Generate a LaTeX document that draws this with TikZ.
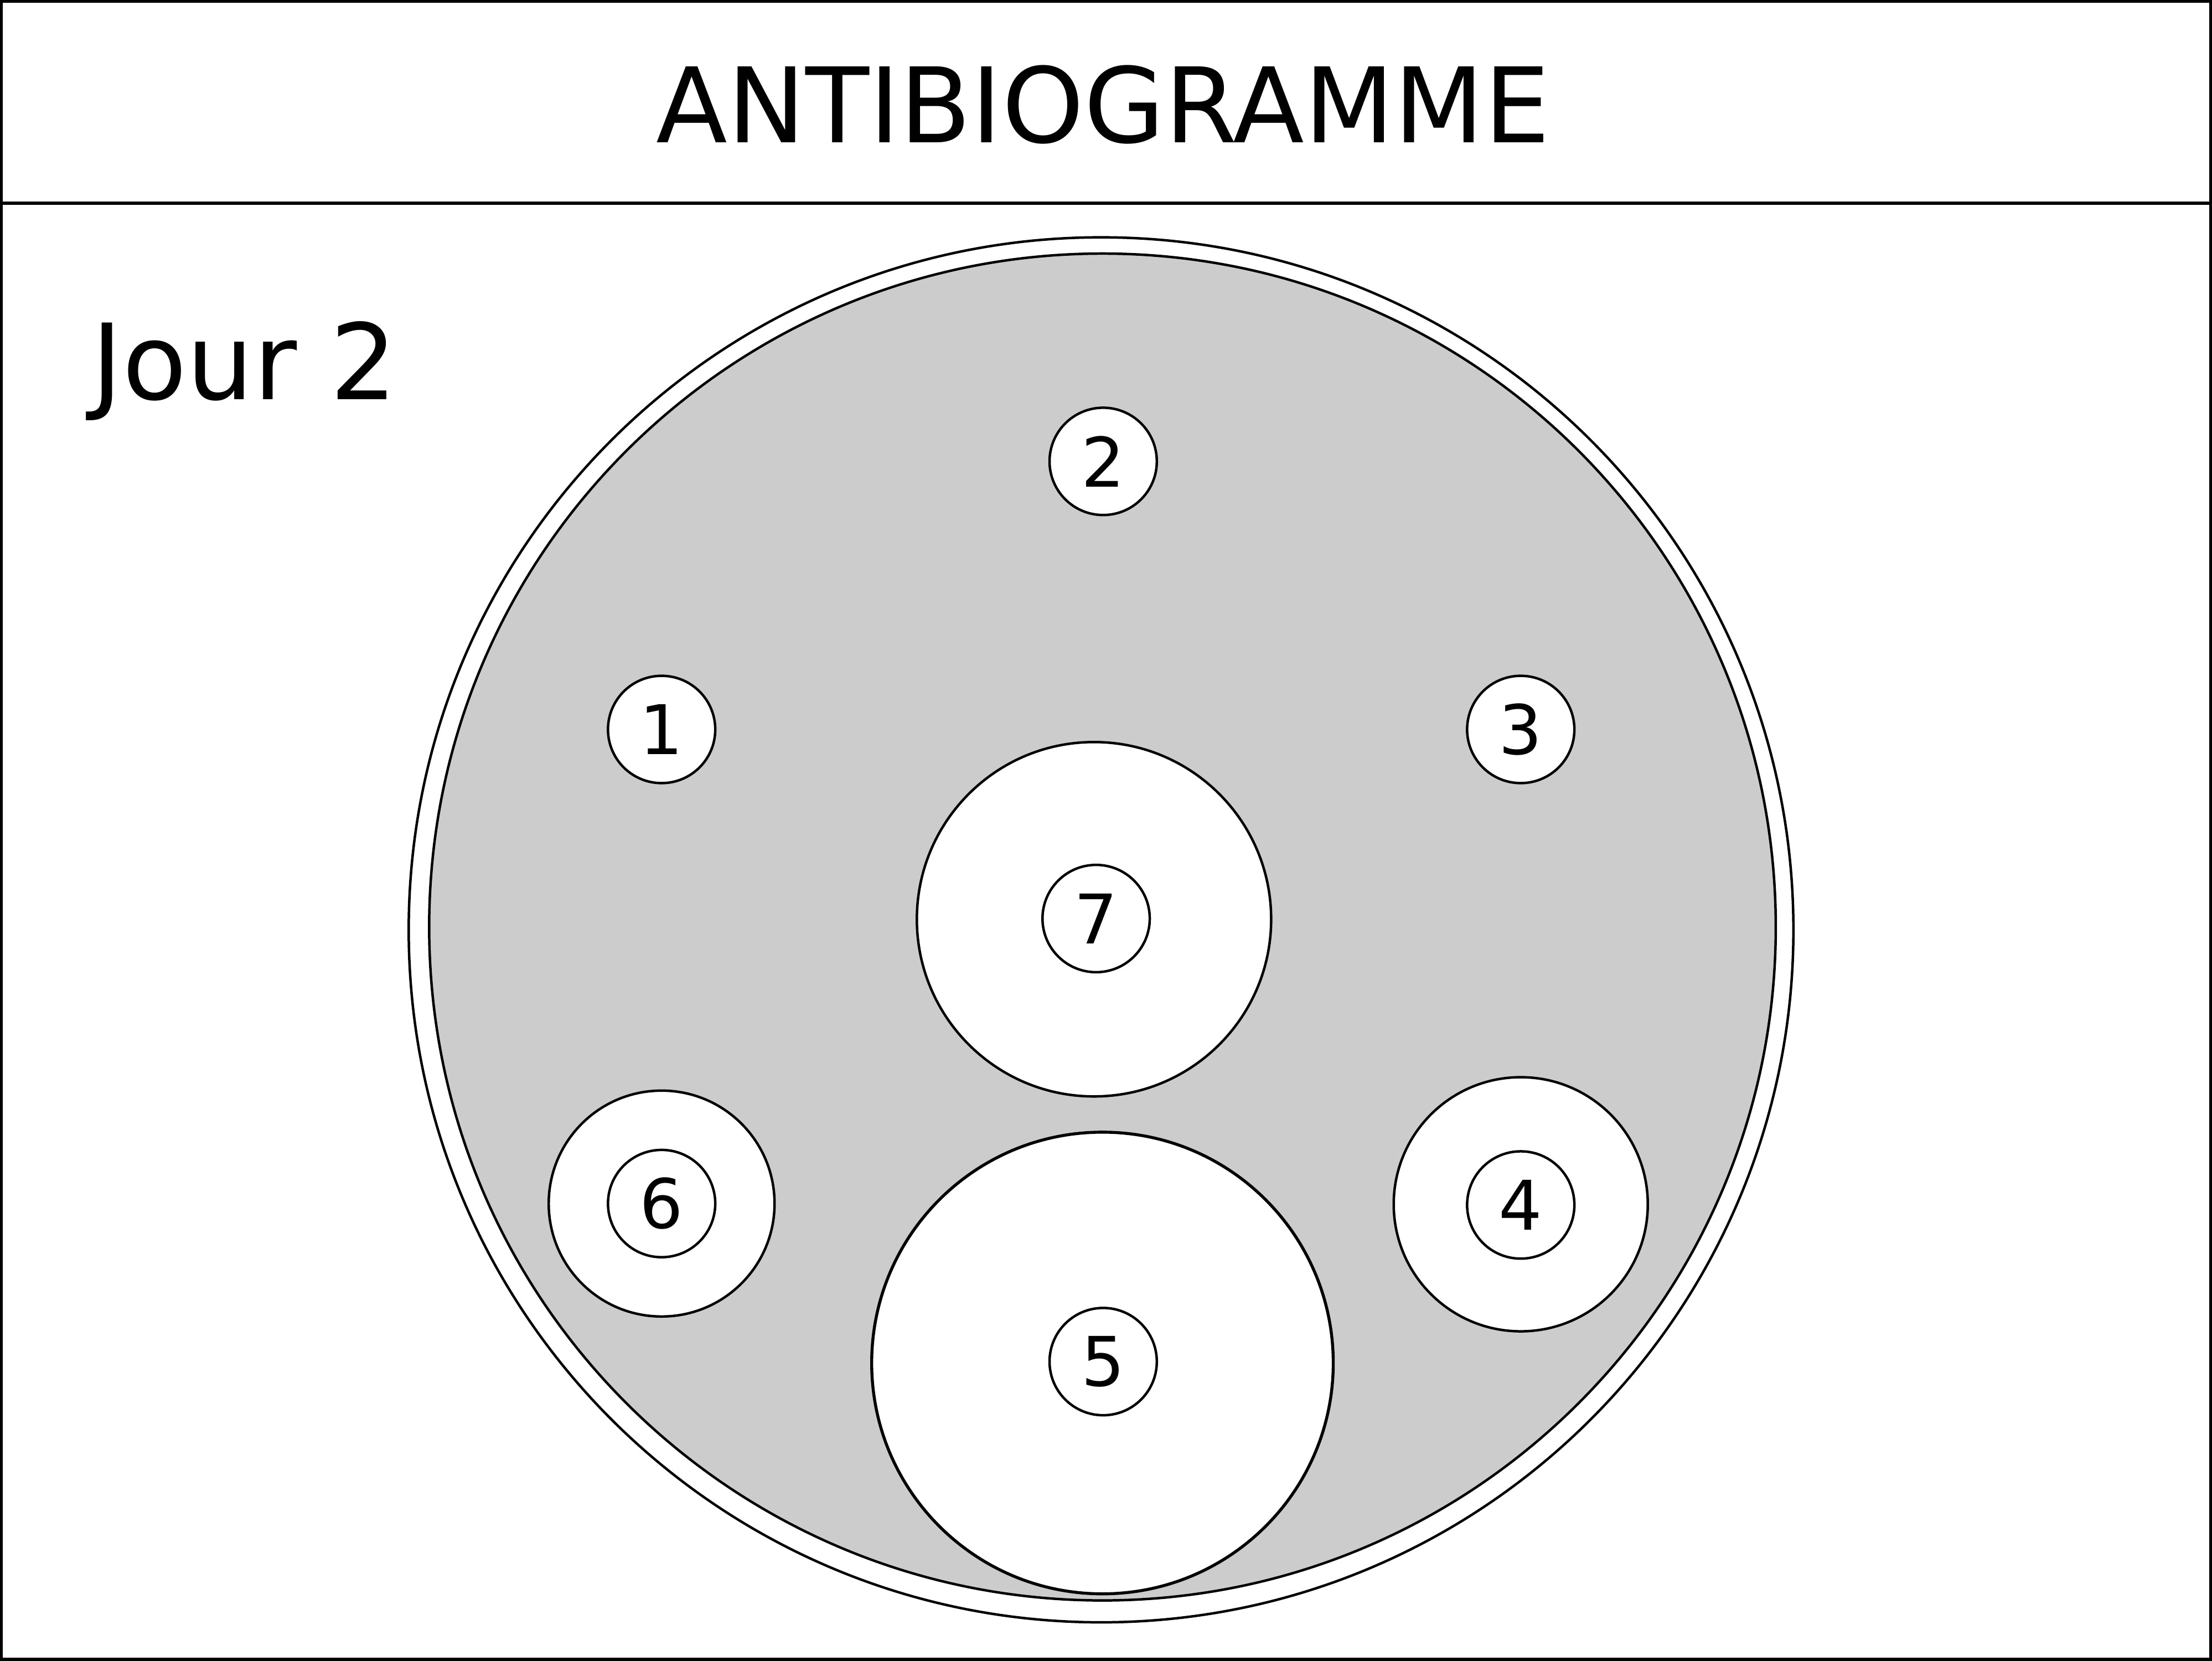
\documentclass[tikz,border=0pt]{standalone}
\usepackage{fontspec}
\setmainfont{DejaVu Sans}
\definecolor{agar}{HTML}{CCCCCC}
\tikzset{
  disk/.style={circle,draw,fill=white,line width=0.5pt,minimum size=0.76cm,inner sep=0pt,font=\fontsize{13.8}{14}\selectfont},
  zone/.style={circle,draw,fill=white,line width=0.5pt,inner sep=0pt}
}
\begin{document}
\begin{tikzpicture}[x=0.01cm,y=-0.01cm,line width=0.5pt]
    \useasboundingbox (0,0) rectangle (1568,1177);
    \draw[line width=0.6pt] (1,1) rectangle (1567,1176) (1,144) -- (1567,144);
    \node[anchor=base,font=\fontsize{21}{24}\selectfont] (titre) at (782,101) {ANTIBIOGRAMME};
    \node[anchor=base west,inner sep=0pt,font=\fontsize{21.2}{24}\selectfont] (jour) at (64,283) {Jour 2};

    % boite de petri
    \draw (780.5,659) circle[radius=4.905cm];
    \draw[fill=agar] (781.5,657) circle[radius=4.77cm];

    % zones d'inhibition
    \node[zone,minimum size=2.51cm] (z7) at (775.5,651.5) {};
    \node[zone,minimum size=1.60cm] (z6) at (469,853) {};
    \node[zone,minimum size=1.80cm] (z4) at (1078,853.5) {};
    \node[zone,minimum size=3.27cm,line width=0.6pt] (z5) at (781.5,966) {};

    % disques
    \node[disk] (d1) at (469,517) {1};
    \node[disk] (d2) at (782,327) {2};
    \node[disk] (d3) at (1078,517) {3};
    \node[disk] (d4) at (1078,854) {4};
    \node[disk] (d5) at (782,965) {5};
    \node[disk] (d6) at (469,853) {6};
    \node[disk] (d7) at (777,651) {7};
\end{tikzpicture}
\end{document}
